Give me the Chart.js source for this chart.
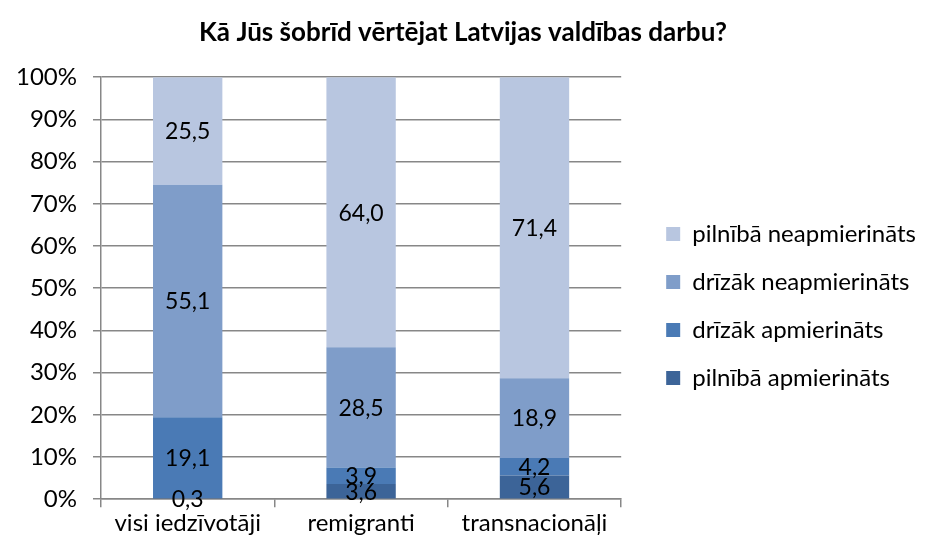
<!DOCTYPE html>
<html><head><meta charset="utf-8">
<script src="https://cdn.jsdelivr.net/npm/chart.js@4/dist/chart.umd.min.js"></script>
<style>html,body{margin:0;padding:0;background:#fff}</style>
</head><body>
<canvas id="c" width="926" height="545"></canvas>
<script>
const categories = ['visi iedzīvotāji', 'remigranti', 'transnacionāļi'];
const seriesNames = ['pilnībā apmierināts', 'drīzāk apmierināts', 'drīzāk neapmierināts', 'pilnībā neapmierināts'];
const pilnibaApmierinats = [0.3, 3.6, 5.6];
const drizakApmierinats = [19.1, 3.9, 4.2];
const drizakNeapmierinats = [55.1, 28.5, 18.9];
const pilnibaNeapmierinats = [25.5, 64.0, 71.4];
const yTicks = [0, 10, 20, 30, 40, 50, 60, 70, 80, 90, 100];
const colors = ['#3C6498', '#4A7AB5', '#7F9DC9', '#B8C6E0'];

const raw = [pilnibaApmierinats, drizakApmierinats, drizakNeapmierinats, pilnibaNeapmierinats];
const totals = categories.map((_, i) => raw.reduce((s, a) => s + a[i], 0));
const FONT = "Lato, 'Open Sans', sans-serif";

const labelPlugin = {
  id: 'segLabels',
  afterDatasetsDraw(chart) {
    const ctx = chart.ctx;
    ctx.save();
    ctx.font = '23px ' + FONT;
    ctx.fillStyle = '#000';
    ctx.textAlign = 'center';
    ctx.textBaseline = 'middle';
    chart.data.datasets.forEach((ds, di) => {
      const meta = chart.getDatasetMeta(di);
      meta.data.forEach((bar, i) => {
        const y = (bar.y + bar.base) / 2;
        ctx.fillText(raw[di][i].toFixed(1).replace('.', ','), bar.x, y + 1);
      });
    });
    ctx.restore();
  }
};

function draw() {
new Chart(document.getElementById('c'), {
  type: 'bar',
  data: {
    labels: categories,
    datasets: raw.map((arr, di) => ({
      label: seriesNames[di],
      data: arr.map((v, i) => v / totals[i] * 100),
      backgroundColor: colors[di],
      borderWidth: 0,
      barPercentage: 0.4,
      categoryPercentage: 1
    }))
  },
  options: {
    responsive: false,
    animation: false,
    layout: { padding: { left: 0, right: 0, top: 0, bottom: 5 } },
    plugins: {
      title: {
        display: true,
        text: 'Kā Jūs šobrīd vērtējat Latvijas valdības darbu?',
        font: { family: FONT, size: 26, weight: 'bold' },
        color: '#000',
        padding: { top: 17, bottom: 29 }
      },
      legend: {
        position: 'right',
        reverse: true,
        maxWidth: 320,
        title: { display: true, text: ' ', font: { size: 10 }, padding: { top: 60, bottom: 0 } },
        labels: {
          font: { family: FONT, size: 24 },
          color: '#000',
          boxWidth: 14,
          boxHeight: 14,
          padding: 24
        }
      },
      tooltip: { enabled: false }
    },
    scales: {
      x: {
        stacked: true,
        grid: { display: true, drawOnChartArea: false, drawTicks: true, tickLength: 8, color: '#878787', lineWidth: 1.5 },
        border: { display: true, color: '#878787', width: 1.5 },
        ticks: { font: { family: FONT, size: 24 }, color: '#000', padding: 2 }
      },
      y: {
        stacked: true,
        min: 0, max: 100,
        afterBuildTicks(axis) { axis.ticks = yTicks.map(v => ({ value: v })); },
        grid: { color: '#878787', lineWidth: 1.5, tickLength: 8 },
        border: { display: true, color: '#878787', width: 1.5 },
        ticks: { font: { family: FONT, size: 24 }, color: '#000', padding: 16, callback: v => v + '%' }
      },
      spacer: {
        type: 'linear',
        position: 'right',
        display: true,
        grid: { display: false },
        border: { display: false },
        ticks: { display: false },
        afterFit(axis) { axis.width = 21; }
      }
    }
  },
  plugins: [labelPlugin]
});
}
if (document.fonts && document.fonts.load) {
  Promise.all([
    document.fonts.load('24px Lato'),
    document.fonts.load('bold 26px Lato')
  ]).then(draw, draw);
} else { draw(); }
</script>
</body></html>
